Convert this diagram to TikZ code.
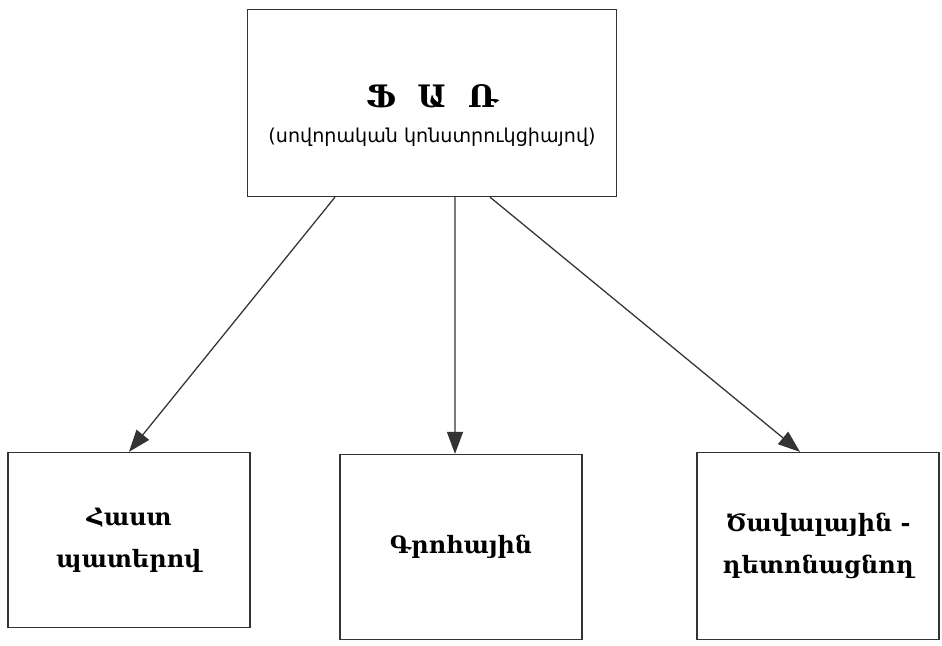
\documentclass[tikz,border=0pt]{standalone}
\usepackage{fontspec}
\setmainfont{DejaVu Serif}
\newfontfamily\armsans{DejaVu Sans}
\usetikzlibrary{arrows.meta, positioning}

\begin{document}
\begin{tikzpicture}[
    every node/.style={draw=black!80, line width=0.9pt, inner sep=0pt, align=center},
    kind/.style={minimum width=6.05cm, minimum height=4.5cm, font=\fontsize{17}{30}\selectfont\bfseries},
    link/.style={-{Triangle[length=0.55cm, width=0.4cm]}, line width=0.9pt, black!80}
]
\useasboundingbox (0,0) rectangle (23.55,-16.125);

% Top box
\node[minimum width=9.225cm, minimum height=4.675cm] (far) at (10.8,-2.575) {};
\node[draw=none, font=\fontsize{22}{24}\selectfont\bfseries] (fartitle) at (10.8,-2.4) {Ֆ\ \ Ա\ \ Ռ};
\node[draw=none, font=\armsans\fontsize{13.6}{16}\selectfont] (farnote) at (10.8,-3.42) {(սովորական կոնստրուկցիայով)};

% Bottom boxes
\node[kind, minimum height=4.375cm] (thick) at (3.225,-13.5) {Հաստ\\պատերով};
\node[kind, minimum height=4.625cm] (assault) at (11.525,-13.675) {Գրոհային};
\node[kind, minimum height=4.675cm] (volume) at (20.45,-13.65) {Ծավալային -\\դետոնացնող};

% Arrows
\foreach \a/\b/\j in {-2.425cm/0cm/thick, 0.575cm/-0.15cm/assault, 1.45cm/-0.45cm/volume}
    \draw[link] ([xshift=\a]far.south) -- ([xshift=\b]\j.north);

\end{tikzpicture}
\end{document}
